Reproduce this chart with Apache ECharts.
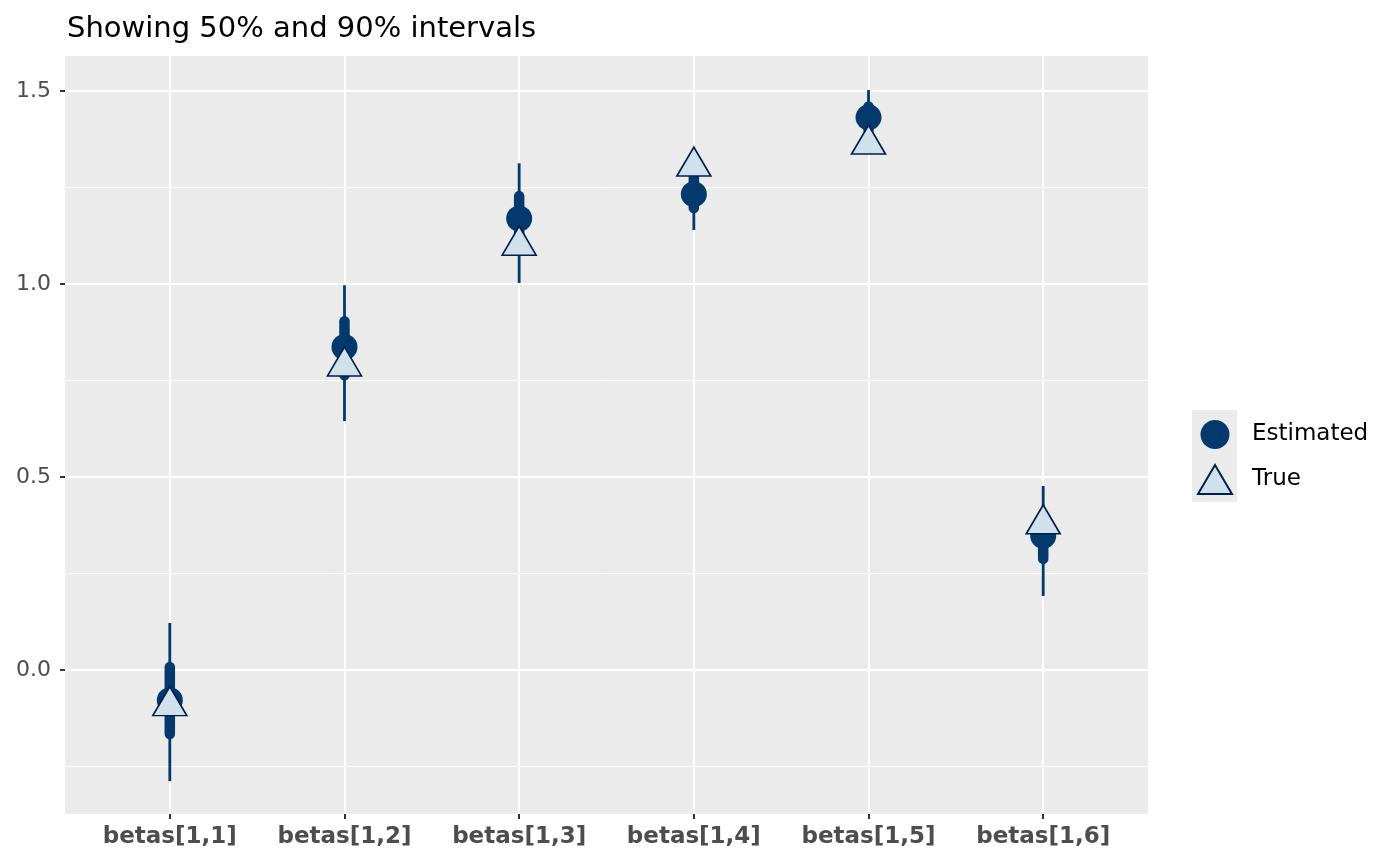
<!DOCTYPE html>
<html><head><meta charset="utf-8">
<script src="https://cdn.jsdelivr.net/npm/echarts@6/dist/echarts.min.js"></script>
<style>html,body{margin:0;padding:0;background:#fff}#c{width:1400px;height:865px}</style>
</head><body><div id="c"></div>
<script>
const categories = ['betas[1,1]', 'betas[1,2]', 'betas[1,3]', 'betas[1,4]', 'betas[1,5]', 'betas[1,6]'];
const estimated = [-0.078, 0.837, 1.170, 1.233, 1.432, 0.348];
const trueValues = [-0.093, 0.787, 1.100, 1.305, 1.362, 0.378];
const outerLow = [-0.288, 0.645, 1.003, 1.140, 1.360, 0.192];
const outerHigh = [0.122, 0.997, 1.313, 1.330, 1.503, 0.477];
const innerLow = [-0.166, 0.764, 1.110, 1.197, 1.400, 0.288];
const innerHigh = [0.008, 0.904, 1.228, 1.280, 1.460, 0.400];
const yMajorTicks = [0, 0.5, 1, 1.5];
const yMinorTicks = [-0.25, 0.25, 0.75, 1.25];
const yMin = -0.373, yMax = 1.591;
const xIdx = categories.map((c, i) => i);

const font = 'DejaVu Sans';
const dark = '#03396c';
const chart = echarts.init(document.getElementById('c'), null, {renderer: 'canvas'});
const option = {
  animation: false,
  title: {text: 'Showing 50% and 90% intervals', left: 62, top: 10, padding: [5, 5, 5, 5],
    textStyle: {fontFamily: font, fontSize: 29, fontWeight: 'normal', color: '#000'}},
  grid: {left: 65, right: 252, top: 56, bottom: 51, show: true, backgroundColor: '#ebebeb', borderWidth: 0},
  xAxis: {type: 'value', min: -0.6, max: 5.6,
    axisLine: {show: false, onZero: false},
    axisTick: {show: true, customValues: xIdx, length: 5, lineStyle: {color: '#333', width: 2}},
    axisLabel: {customValues: xIdx, formatter: v => categories[Math.round(v)],
      fontFamily: font, fontWeight: 'bold', fontSize: 23, color: '#4d4d4d', margin: 12},
    splitLine: {show: true, lineStyle: {color: '#fff', width: 2}}},
  yAxis: [
    {type: 'value', min: yMin, max: yMax,
      axisLine: {show: false, onZero: false},
      axisTick: {show: true, customValues: yMajorTicks, length: 5, lineStyle: {color: '#333', width: 2}},
      axisLabel: {customValues: yMajorTicks, formatter: v => Number(v).toFixed(1),
        fontFamily: font, fontSize: 22, color: '#4d4d4d', margin: 14},
      splitLine: {show: true, lineStyle: {color: '#fff', width: 2}}},
    {type: 'value', min: yMin, max: yMax, position: 'left',
      axisLine: {show: false, onZero: false},
      axisTick: {show: false, customValues: yMinorTicks},
      axisLabel: {show: false, customValues: yMinorTicks},
      splitLine: {show: true, lineStyle: {color: '#fff', width: 1}}}
  ],
  legend: {data: ['Estimated', 'True'], orient: 'vertical', left: 1197, top: 420, padding: 0,
    itemWidth: 34, itemHeight: 29, itemGap: 15,
    textStyle: {fontFamily: font, fontSize: 23, color: '#000', padding: [3, 0, 0, 15]}},
  graphic: [{type: 'rect', left: 1192, top: 410, shape: {width: 45, height: 92}, style: {fill: '#ebebeb'}, z: -1}],
  series: [
    {type: 'custom', name: 'intervals', silent: true, z: 2,
      data: xIdx.map(i => [i, outerLow[i], outerHigh[i], innerLow[i], innerHigh[i]]),
      encode: {x: 0, y: [1, 2, 3, 4]},
      renderItem: (params, api) => {
        const x = api.value(0);
        const o1 = api.coord([x, api.value(1)]), o2 = api.coord([x, api.value(2)]);
        const i1 = api.coord([x, api.value(3)]), i2 = api.coord([x, api.value(4)]);
        return {type: 'group', children: [
          {type: 'line', shape: {x1: o1[0], y1: o1[1], x2: o2[0], y2: o2[1]},
            style: {stroke: dark, lineWidth: 2.8, lineCap: 'butt'}},
          {type: 'line', shape: {x1: i1[0], y1: i1[1], x2: i2[0], y2: i2[1]},
            style: {stroke: dark, lineWidth: 10.5, lineCap: 'round'}}
        ]};
      }},
    {type: 'scatter', name: 'Estimated', z: 3, silent: true,
      data: xIdx.map(i => [i, estimated[i]]),
      symbol: 'circle', symbolSize: 26, itemStyle: {color: dark, opacity: 1}},
    {type: 'scatter', name: 'True', z: 4, silent: true,
      data: xIdx.map(i => [i, trueValues[i]]),
      symbol: 'triangle', symbolSize: [34, 29], symbolOffset: [0, -4.8],
      itemStyle: {color: '#d1e1ec', borderColor: '#011f4b', borderWidth: 1.6, opacity: 1}}
  ]
};
chart.setOption(option);
</script></body></html>
